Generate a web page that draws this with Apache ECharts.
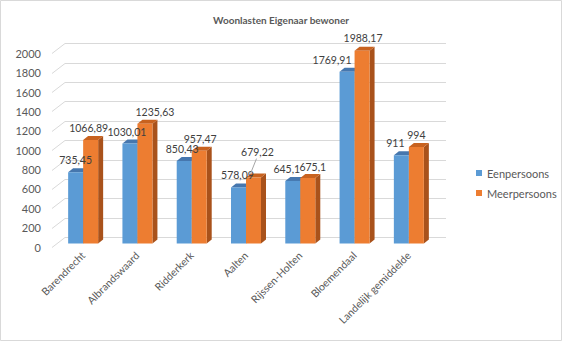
<!DOCTYPE html>
<html><head><meta charset="utf-8">
<script src="https://cdn.jsdelivr.net/npm/echarts@6/dist/echarts.min.js"></script>
<style>html,body{margin:0;padding:0;background:#fff}#c{width:562px;height:341px}</style>
</head><body><div id="c"></div>
<script>
// ---- data ----
const categories = ['Barendrecht','Albrandswaard','Ridderkerk','Aalten','Rijssen-Holten','Bloemendaal','Landelijk gemiddelde'];
const eenpersoons = [735.45, 1030.01, 850.43, 578.09, 645.1, 1769.91, 911];
const meerpersoons = [1066.89, 1235.63, 957.47, 679.22, 675.1, 1988.17, 994];
const seriesNames = ['Eenpersoons', 'Meerpersoons'];
const yTicks = [0, 200, 400, 600, 800, 1000, 1200, 1400, 1600, 1800, 2000];
const titleText = 'Woonlasten Eigenaar bewoner';

// ---- styles / positions (not data) ----
const FONT = 'Lato, "Open Sans", sans-serif';
const colors = [
  {front: '#5B9BD5', side: '#41719C', top: '#4677AE'},
  {front: '#ED7D31', side: '#A9521B', top: '#C8621F'}
];
const BAR_W = 15, DEPTH_X = 5, DEPTH_Y = 4;
// label nudges keyed "series-category": [dx, dy, leader]
const labelShift = {
  '1-0': [-2, 0], '0-1': [-3, 0], '1-1': [10, 0],
  '0-2': [-2, 0], '1-2': [1, 0], '0-3': [-1, 0], '1-3': [4, -14, true],
  '0-4': [-6, 0], '1-4': [5, 1],
  '0-5': [-15, 0], '1-5': [1, -1],
  '0-6': [-6, 0]
};
const fmt = v => String(v).replace('.', ',');
const allSeries = [eenpersoons, meerpersoons];

function barRenderer(s) {
  return function (params, api) {
    const ci = api.value(0), v = api.value(1);
    const base = api.coord([ci, 0]);
    const top = api.coord([ci, v]);
    const cx = base[0] + (s === 0 ? -BAR_W / 2 : BAR_W / 2);
    const xl = cx - BAR_W / 2, xr = cx + BAR_W / 2;
    const yt = top[1], yb = base[1];
    const c = colors[s];
    return {
      type: 'group',
      children: [
        {type: 'polygon', shape: {points: [[xr, yt], [xr + DEPTH_X, yt - DEPTH_Y], [xr + DEPTH_X, yb - DEPTH_Y], [xr, yb]]}, style: {fill: c.side}},
        {type: 'polygon', shape: {points: [[xl, yt], [xl + DEPTH_X, yt - DEPTH_Y], [xr + DEPTH_X, yt - DEPTH_Y], [xr, yt]]}, style: {fill: c.top}},
        {type: 'rect', shape: {x: xl, y: yt, width: BAR_W, height: yb - yt}, style: {fill: c.front}}
      ]
    };
  };
}

function labelRenderer(params, api) {
  const s = api.value(0), ci = api.value(1), v = api.value(2);
  const base = api.coord([ci, 0]);
  const top = api.coord([ci, v]);
  const cx = base[0] + (s === 0 ? -BAR_W / 2 : BAR_W / 2);
  const sh = labelShift[s + '-' + ci] || [0, 0];
  const lx = cx + sh[0], ly = top[1] - 12 + sh[1];
  const children = [{
    type: 'text',
    style: {text: fmt(v), x: lx, y: ly, align: 'center', verticalAlign: 'middle', fill: '#404040', font: '10.5px ' + FONT}
  }];
  if (sh[2]) {
    children.push({type: 'line', shape: {x1: lx - 1, y1: ly + 7, x2: cx - 3, y2: top[1] - DEPTH_Y}, style: {stroke: '#a6a6a6', lineWidth: 1}});
  }
  return {type: 'group', children};
}

function gridRenderer(params, api) {
  const v = api.value(0);
  const p = api.coord([0, v]);
  const cs = params.coordSys;
  const y = Math.round(p[1]) + 0.5;
  return {
    type: 'polyline',
    shape: {points: [[cs.x, y], [cs.x + 13, y - 10], [cs.x + cs.width, y - 10]]},
    style: {stroke: '#d9d9d9', lineWidth: 1, fill: null}
  };
}

const labelData = [];
allSeries.forEach((arr, s) => arr.forEach((v, i) => labelData.push([s, i, v])));

const chart = echarts.init(document.getElementById('c'), null, {renderer: 'svg'});
chart.setOption({
  animation: false,
  backgroundColor: '#fff',
  textStyle: {fontFamily: FONT},
  title: {text: titleText, left: 'center', top: 10, textStyle: {fontSize: 10, fontWeight: 'bold', color: '#595959', fontFamily: FONT}},
  legend: {
    data: seriesNames, orient: 'vertical', left: 476, top: 166, itemWidth: 6, itemHeight: 6, itemGap: 6,
    icon: 'rect', padding: 0,
    textStyle: {fontSize: 11, color: '#595959', lineHeight: 14, fontFamily: FONT}
  },
  graphic: [{type: 'rect', shape: {x: 0.5, y: 0.5, width: 561, height: 340}, style: {fill: null, stroke: '#d9d9d9', lineWidth: 1}, silent: true, z: 100}],
  grid: [
    {left: 56, right: 126, top: 49.5, bottom: 97.5},
    {left: 52, right: 116, top: 53.3, bottom: 94}
  ],
  xAxis: [
    {type: 'category', gridIndex: 0, data: categories, axisLine: {show: false}, axisTick: {show: false},
     axisLabel: {rotate: 45, interval: 0, margin: 10, fontSize: 10.5, color: '#595959', fontFamily: FONT}},
    {type: 'value', gridIndex: 1, min: 0, max: 1, show: false}
  ],
  yAxis: [
    {type: 'value', gridIndex: 0, min: 0, max: 2000, interval: 200, show: false, splitLine: {show: false}},
    {type: 'value', gridIndex: 1, min: 0, max: 2000, interval: 200, axisLine: {show: false}, axisTick: {show: false},
     splitLine: {show: false}, axisLabel: {margin: 11, fontSize: 11, color: '#595959', fontFamily: FONT, formatter: v => String(v)}}
  ],
  series: [
    {type: 'custom', name: 'grid', xAxisIndex: 1, yAxisIndex: 1, data: yTicks.map(v => [v]), encode: {y: 0}, renderItem: gridRenderer, z: 0, silent: true},
    {type: 'custom', name: seriesNames[0], xAxisIndex: 0, yAxisIndex: 0, itemStyle: {color: colors[0].front},
     data: eenpersoons.map((v, i) => [i, v]), encode: {x: 0, y: 1}, renderItem: barRenderer(0), z: 2},
    {type: 'custom', name: seriesNames[1], xAxisIndex: 0, yAxisIndex: 0, itemStyle: {color: colors[1].front},
     data: meerpersoons.map((v, i) => [i, v]), encode: {x: 0, y: 1}, renderItem: barRenderer(1), z: 3},
    {type: 'custom', name: 'labels', xAxisIndex: 0, yAxisIndex: 0, data: labelData, encode: {x: 1, y: 2},
     renderItem: labelRenderer, z: 5, silent: true}
  ]
});
</script></body></html>
